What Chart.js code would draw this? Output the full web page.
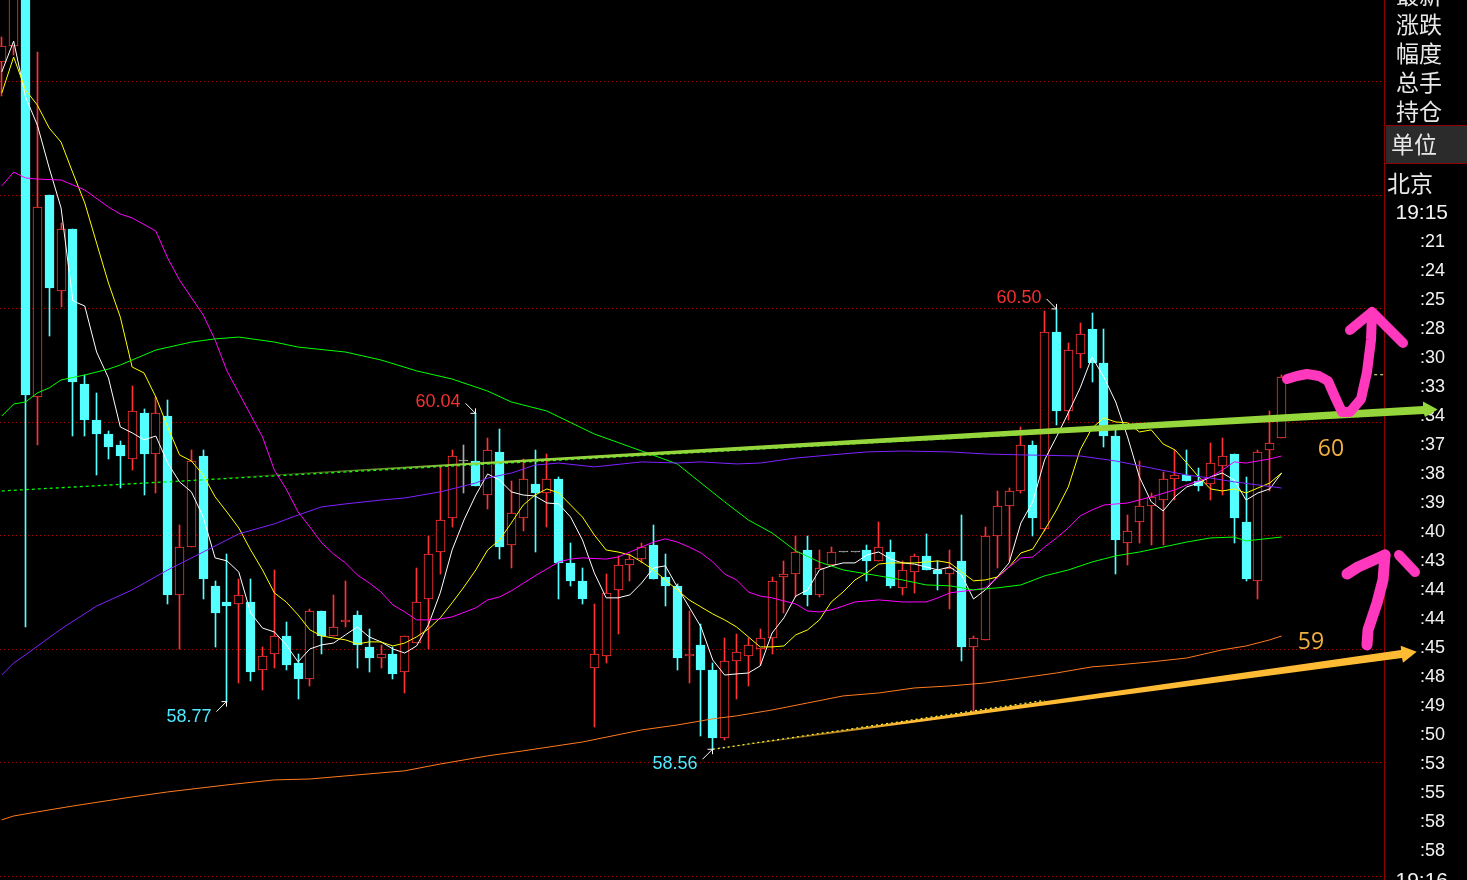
<!DOCTYPE html>
<html>
<head>
<meta charset="utf-8">
<style>html,body{margin:0;padding:0;background:#000;overflow:hidden}canvas{display:block}</style>
<script src="https://cdn.jsdelivr.net/npm/chart.js@4/dist/chart.umd.min.js"></script>
</head>
<body>
<canvas id="c" width="1467" height="880"></canvas>
<script>
// first candle index (candles run from -2 to 106)
const firstIndex = -2;
const open = [61.59,61.66,62.30,60.11,61.00,60.58,60.85,60.17,60.01,59.95,59.90,59.84,60.04,59.86,60.03,59.24,59.45,59.85,59.28,59.21,59.20,59.21,58.91,58.98,59.06,58.94,58.87,59.17,59.06,59.12,59.15,59.01,58.96,58.98,58.90,59.03,59.22,59.43,59.58,59.83,59.83,59.68,59.87,59.46,59.58,59.73,59.69,59.75,59.38,59.30,58.92,58.97,59.26,59.37,59.40,59.46,59.32,59.28,58.97,59.02,58.91,58.61,58.95,58.97,59.00,59.05,59.32,59.33,59.44,59.24,59.37,59.43,59.43,59.44,59.39,59.43,59.27,59.34,59.41,59.35,59.33,59.39,59.01,59.04,59.50,59.63,59.70,59.90,59.53,60.40,60.05,60.30,60.41,60.26,59.94,59.47,59.56,59.63,59.66,59.75,59.77,59.74,59.73,59.81,59.86,59.56,59.30,59.88,59.93];
const close = [61.66,62.00,60.12,60.95,60.59,60.85,60.18,60.01,59.95,59.89,59.85,60.05,59.86,60.04,59.24,59.45,59.83,59.31,59.16,59.19,59.24,58.90,58.97,59.06,58.93,58.87,59.17,59.06,59.10,59.13,59.02,58.96,58.98,58.89,59.06,59.21,59.42,59.57,59.85,59.83,59.72,59.88,59.45,59.60,59.75,59.69,59.75,59.38,59.30,59.22,58.98,59.25,59.37,59.40,59.45,59.31,59.28,58.96,58.98,58.91,58.61,58.95,58.99,59.02,59.05,59.30,59.33,59.43,59.24,59.36,59.43,59.43,59.43,59.39,59.45,59.28,59.35,59.41,59.35,59.33,59.36,59.01,59.05,59.50,59.63,59.70,59.90,59.58,60.40,60.05,60.32,60.39,60.26,59.94,59.48,59.52,59.63,59.67,59.75,59.77,59.74,59.72,59.82,59.85,59.58,59.31,59.87,59.91,60.20];
const high = [61.70,62.10,62.40,61.63,61.00,60.88,60.85,60.21,60.13,59.96,59.92,60.16,60.06,60.11,60.10,59.55,59.88,59.88,59.30,59.42,59.31,59.31,59.01,59.35,59.12,58.98,59.18,59.17,59.24,59.30,59.17,59.09,59.02,59.01,59.06,59.36,59.50,59.81,59.88,59.90,60.04,59.93,59.97,59.74,59.84,59.88,59.86,59.76,59.47,59.36,59.20,59.33,59.41,59.42,59.47,59.55,59.42,59.29,59.17,59.11,58.94,59.05,59.07,59.05,59.09,59.32,59.39,59.50,59.50,59.44,59.45,59.43,59.43,59.46,59.56,59.48,59.39,59.42,59.51,59.39,59.44,59.59,59.06,59.54,59.70,59.71,59.98,59.92,60.49,60.50,60.35,60.44,60.48,60.41,59.97,59.59,59.83,59.69,59.78,59.88,59.88,59.80,59.91,59.93,59.86,59.76,59.88,60.05,60.21];
const low = [61.44,61.62,59.10,59.90,60.38,60.51,59.94,59.94,59.77,59.84,59.71,59.79,59.68,59.69,59.20,59.00,59.45,59.22,59.01,58.77,58.85,58.86,58.82,58.92,58.91,58.78,58.84,58.98,59.06,59.10,58.92,58.90,58.92,58.87,58.81,59.03,59.00,59.33,59.54,59.69,59.72,59.62,59.40,59.36,59.52,59.43,59.54,59.22,59.28,59.20,58.66,58.94,59.07,59.30,59.38,59.31,59.19,58.91,58.85,58.62,58.56,58.60,58.78,58.84,58.93,58.98,59.16,59.23,59.19,59.23,59.37,59.43,59.43,59.30,59.39,59.27,59.24,59.25,59.35,59.26,59.18,58.95,58.72,59.04,59.36,59.39,59.69,59.50,59.52,59.99,60.01,60.24,60.18,59.89,59.33,59.37,59.47,59.46,59.46,59.66,59.74,59.70,59.66,59.68,59.47,59.30,59.22,59.70,59.93];

// moving averages read per candle
const ma5 = [61.544,61.680,61.434,61.310,61.121,60.945,60.535,60.513,60.310,60.196,59.980,59.954,59.923,59.940,59.821,59.738,59.694,59.583,59.403,59.390,59.341,59.161,59.094,59.077,59.020,58.945,59.002,59.020,59.028,59.064,59.099,59.055,59.033,59.002,58.984,59.015,59.108,59.249,59.438,59.570,59.680,59.773,59.746,59.694,59.680,59.676,59.645,59.641,59.583,59.482,59.337,59.227,59.227,59.240,59.293,59.359,59.368,59.275,59.187,59.099,58.953,58.887,58.892,58.896,58.927,59.072,59.139,59.235,59.262,59.350,59.368,59.381,59.381,59.416,59.429,59.398,59.381,59.376,59.363,59.350,59.363,59.328,59.222,59.262,59.319,59.381,59.557,59.650,59.835,59.936,60.042,60.152,60.288,60.200,60.090,59.936,59.760,59.650,59.610,59.672,59.716,59.733,59.760,59.777,59.746,59.658,59.689,59.707,59.777];
const ma10 = [61.451,61.610,61.465,61.398,61.297,61.235,61.099,60.967,60.790,60.614,60.464,60.244,60.218,60.112,59.980,59.857,59.830,59.768,59.672,59.605,59.535,59.438,59.350,59.249,59.209,59.152,59.086,59.059,59.050,59.042,59.024,59.033,59.033,59.015,59.028,59.055,59.090,59.139,59.205,59.275,59.350,59.438,59.482,59.557,59.636,59.680,59.707,59.689,59.636,59.583,59.504,59.438,59.429,59.416,59.385,59.350,59.306,59.262,59.218,59.187,59.156,59.130,59.099,59.055,59.011,59.011,59.015,59.064,59.086,59.130,59.209,59.253,59.306,59.337,59.376,59.381,59.381,59.381,59.385,59.390,59.381,59.341,59.302,59.306,59.319,59.363,59.425,59.442,59.526,59.614,59.716,59.879,59.975,60.020,60.002,59.998,59.958,59.967,59.905,59.879,59.821,59.760,59.707,59.698,59.707,59.689,59.711,59.733,59.777];

// slower averages: candle index and value at each reading
const ma20Idx = [-2,-1,0,1,3,5,7,8,9,11,12,13,15,16,17,18,19,20,21,22,23,24,25,26,27,28,29,30,31,32,33,34,35,36,38,39,40,41,43,45,46,47,49,50,52,53,54,55,56,57,58,59,60,61,62,63,65,66,67,68,69,70,72,74,76,77,78,80,81,82,83,84,85,86,87,88,89,90,91,93,95,97,98,100,101,102,103,105,106];
const ma20 = [61.042,61.103,61.077,61.072,61.068,61.024,60.949,60.918,60.901,60.843,60.724,60.627,60.473,60.363,60.227,60.130,60.033,59.936,59.790,59.707,59.606,59.539,59.469,59.420,59.381,59.328,59.293,59.253,59.196,59.165,59.130,59.130,59.134,59.143,59.183,59.218,59.231,59.258,59.324,59.385,59.398,59.403,59.398,59.407,59.451,59.473,59.487,59.473,59.451,59.425,59.385,59.332,59.306,59.253,59.235,59.227,59.200,59.169,59.165,59.174,59.191,59.209,59.218,59.209,59.209,59.227,59.249,59.262,59.271,59.315,59.363,59.403,59.407,59.451,59.491,59.535,59.588,59.614,59.636,59.645,59.672,59.703,59.725,59.760,59.790,59.826,59.821,59.839,59.852];
const ma40Idx = [-2,-1,0,1,2,3,5,7,8,11,14,16,18,21,23,27,30,33,36,39,41,44,48,52,55,57,59,61,63,65,67,69,72,74,76,78,80,82,84,86,88,90,92,94,96,98,100,102,103,106];
const ma40 = [60.028,60.081,60.090,60.130,60.152,60.187,60.209,60.235,60.253,60.319,60.354,60.368,60.376,60.354,60.332,60.310,60.275,60.227,60.191,60.138,60.090,60.050,59.949,59.874,59.817,59.733,59.650,59.570,59.513,59.434,59.385,59.350,59.324,59.306,59.284,59.280,59.262,59.271,59.284,59.324,59.350,59.385,59.412,59.429,59.451,59.473,59.491,59.495,59.478,59.495];
const ma60Idx = [-2,-1,0,3,6,9,12,15,18,21,23,25,27,30,32,35,38,39,41,43,45,48,52,55,57,60,62,65,68,71,74,78,81,84,89,92,95,98,100,102,106];
const ma60 = [58.887,58.940,58.976,59.090,59.191,59.262,59.350,59.429,59.509,59.553,59.592,59.628,59.641,59.658,59.667,59.694,59.733,59.755,59.777,59.812,59.821,59.804,59.826,59.821,59.826,59.817,59.821,59.843,59.857,59.870,59.874,59.870,59.861,59.857,59.852,59.830,59.799,59.768,59.755,59.738,59.711];
const ma120Idx = [-2,-1,1,4,9,12,17,21,24,28,32,35,39,42,47,52,55,58,60,63,66,69,72,75,78,81,84,87,90,92,95,98,101,103,105,106];
const ma120 = [58.249,58.266,58.284,58.310,58.350,58.372,58.403,58.425,58.429,58.447,58.465,58.495,58.531,58.553,58.592,58.645,58.667,58.694,58.707,58.733,58.764,58.795,58.808,58.830,58.839,58.852,58.874,58.896,58.923,58.931,58.945,58.962,58.998,59.015,59.042,59.059];

// drawn trend lines and last-price mark: [index],[price]
const trendGreenIdx = [-2,85];  const trendGreen = [59.698,59.949];
const trendYellowIdx = [58,86]; const trendYellow = [58.56,58.775];
const lastPriceIdx = [112.8,114.6]; const lastPrice = [60.21,60.21];

const gridPrices = [61.5,61,60.5,60,59.5,59,58.5,58];
const calloutIdx = [17,38,58,87];
const calloutPrice = [58.77,60.04,58.56,60.50];
const calloutText = ['58.77','60.04','58.56','60.50'];

const panelRows = ['最新','涨跌','幅度','总手','持仓'];
const unitLabel = '单位';
const cityLabel = '北京';
const startTime = '19:15';
const endTime = '19:16';
const timeTicks = [':21',':24',':25',':28',':30',':33',':34',':37',':38',':39',':40',':43',':44',':44',':45',':48',':49',':50',':53',':55',':58',':58'];
const note60 = '60';
const note59 = '59';

const RED='#ff3333', CYAN='#54ffff', GRAY='#a8a8a8';
const idx = open.map((_,i)=>i+firstIndex);
const colorOf = i => close[i]>open[i] ? RED : close[i]<open[i] ? CYAN : GRAY;
const pts = (xs,ys)=>xs.map((x,i)=>({x,y:ys[i]}));
const lineDs = (xs,ys,color,extra)=>Object.assign({type:'line',data:pts(xs,ys),borderColor:color,borderWidth:1,pointRadius:0,tension:0,fill:false,order:1},extra||{});

const snapPlugin = {
  id:'snap',
  beforeDatasetsDraw(chart){
    chart.data.datasets.forEach((d,di)=>{
      if(d.type!=='bar') return;
      chart.getDatasetMeta(di).data.forEach(el=>{
        el.x=Math.floor(el.x)+0.5;
        let a=Math.round(el.y), b=Math.round(el.base);
        if(a===b && d.label==='bodies') b=a+1;
        el.y=a; el.base=b; el.height=b-a;
      });
    });
  }
};

function stroke(ctx,pts,color,w){
  ctx.beginPath();
  pts.forEach((p,i)=>i?ctx.lineTo(p[0],p[1]):ctx.moveTo(p[0],p[1]));
  ctx.strokeStyle=color;ctx.lineWidth=w;ctx.lineCap='round';ctx.lineJoin='round';ctx.stroke();
}
function poly(ctx,pts,fill){
  ctx.beginPath();
  pts.forEach((p,i)=>i?ctx.lineTo(p[0],p[1]):ctx.moveTo(p[0],p[1]));
  ctx.closePath();ctx.fillStyle=fill;ctx.fill();
}

const overlayPlugin = {
  id:'overlay',
  afterDraw(chart){
    const ctx=chart.ctx, xs=chart.scales.x, ys=chart.scales.y;
    ctx.save();
    // callouts
    ctx.textAlign='right';ctx.textBaseline='middle';
    ctx.font='18px "Liberation Sans"';
    calloutIdx.forEach((ci,k)=>{
      const px=Math.floor(xs.getPixelForValue(ci))+0.5, py=ys.getPixelForValue(calloutPrice[k]);
      const up=calloutPrice[k]>=60;
      const s=up?-1:1;
      ctx.fillStyle=up?'#f53030':'#4fe9ff';
      ctx.fillText(calloutText[k],px-15,py+(up?-11:15));
      ctx.lineCap='butt';
      ctx.strokeStyle='#ffffff';ctx.lineWidth=1;
      ctx.beginPath();
      ctx.moveTo(px-10,py+s*10);ctx.lineTo(px,py);
      ctx.moveTo(px-5,py);ctx.lineTo(px,py);ctx.lineTo(px,py+s*5);
      ctx.stroke();
    });
    // right panel
    ctx.fillStyle='#2b2b2b';ctx.fillRect(1386,125,81,38);
    ctx.fillStyle='#8b0000';
    ctx.fillRect(1384,0,1,880);
    ctx.fillRect(1386,125,81,1);
    ctx.fillRect(1384,163,83,1);
    ctx.fillStyle='#e8e8e8';ctx.textAlign='left';
    ctx.font='23px "Noto Sans CJK SC"';
    panelRows.forEach((t,i)=>ctx.fillText(t,1396,-5+29*i));
    ctx.fillText(unitLabel,1391,144);
    ctx.fillText(cityLabel,1387,183);
    ctx.textAlign='right';
    ctx.fillStyle='#f2f2f2';
    ctx.font='21px "Liberation Sans"';
    ctx.fillText(startTime,1448,213);
    ctx.fillText(endTime,1448,881);
    ctx.font='18px "Liberation Sans"';
    timeTicks.forEach((t,i)=>ctx.fillText(t,1445,242+29*i));
    // hand notes
    ctx.fillStyle='#f0b040';ctx.textAlign='center';
    ctx.font='23px "Open Sans"';
    ctx.fillText(note60,1331,449);
    ctx.fillText(note59,1311,642);
    // green arrow
    let g=ctx.createLinearGradient(207,0,470,0);
    g.addColorStop(0,'rgba(148,214,60,0.15)');g.addColorStop(1,'rgba(148,214,60,1)');
    poly(ctx,[[207,478.5],[1423,406],[1423,401.5],[1437.7,409.5],[1425,417],[1424,414],[207,479]],g);
    // orange arrow
    g=ctx.createLinearGradient(712,0,900,0);
    g.addColorStop(0,'rgba(255,187,51,0.1)');g.addColorStop(1,'rgba(255,187,51,1)');
    poly(ctx,[[712,749],[1401,650],[1400.7,645.7],[1416.7,651.7],[1403,662.7],[1402,658],[712,749.5]],g);
    // pink strokes
    const P='#ff38bd';
    stroke(ctx,[[1287,379],[1297,376],[1307,374],[1319,376],[1328,381],[1335,397],[1342,412],[1350,412],[1361,399],[1367,372],[1371,340],[1372,313]],P,10);
    stroke(ctx,[[1350,330],[1372,312],[1403,343]],P,10);
    stroke(ctx,[[1367,645],[1368,630],[1377,603],[1383,580],[1385,555]],P,11);
    stroke(ctx,[[1347,574],[1358,567],[1385,555]],P,11);
    stroke(ctx,[[1399,555],[1415,572]],P,10);
    ctx.restore();
  }
};

new Chart(document.getElementById('c'),{
  type:'bar',
  data:{datasets:[
    {type:'bar',label:'wicks',order:6,grouped:false,barThickness:1,borderWidth:0,
      data:idx.map((x,i)=>({x,y:[low[i],high[i]]})),
      backgroundColor:idx.map((_,i)=>colorOf(i))},
    {type:'bar',label:'bodies',order:5,grouped:false,barThickness:9,borderWidth:1,borderSkipped:false,minBarLength:1,
      data:idx.map((x,i)=>({x,y:[open[i],close[i]]})),
      backgroundColor:idx.map((_,i)=>close[i]>open[i]?'#000000':colorOf(i)),
      borderColor:idx.map((_,i)=>colorOf(i))},
    lineDs(ma120Idx,ma120,'#ff7a1f'),
    lineDs(ma60Idx,ma60,'#7f22ff'),
    lineDs(ma40Idx,ma40,'#00ff00'),
    lineDs(ma20Idx,ma20,'#ff00ff'),
    lineDs(idx,ma10,'#ffff00'),
    lineDs(idx,ma5,'#ffffff'),
    lineDs(trendGreenIdx,trendGreen,'#00ff00',{borderDash:[3,3],borderWidth:1.3}),
    lineDs(trendYellowIdx,trendYellow,'#ffff33',{borderDash:[2,3],borderWidth:1.3}),
    lineDs(lastPriceIdx,lastPrice,'#ffff99',{borderDash:[3,3]})
  ]},
  options:{
    responsive:false,animation:false,devicePixelRatio:1,events:[],
    layout:{padding:{left:0,top:0,bottom:0,right:83}},
    plugins:{legend:{display:false},tooltip:{enabled:false},title:{display:false}},
    scales:{
      x:{type:'linear',display:false,offset:false,min:-2.152,max:114.64},
      y:{type:'linear',display:true,min:57.984,max:61.861,
        afterFit(s){s.width=0;},
        afterBuildTicks(s){s.ticks=gridPrices.map(v=>({value:v}));},
        ticks:{display:false},
        border:{display:false,dash:[1,3]},
        grid:{color:'#b00000',lineWidth:1,drawTicks:false}}
    }
  },
  plugins:[snapPlugin,overlayPlugin]
});
</script>
</body>
</html>
